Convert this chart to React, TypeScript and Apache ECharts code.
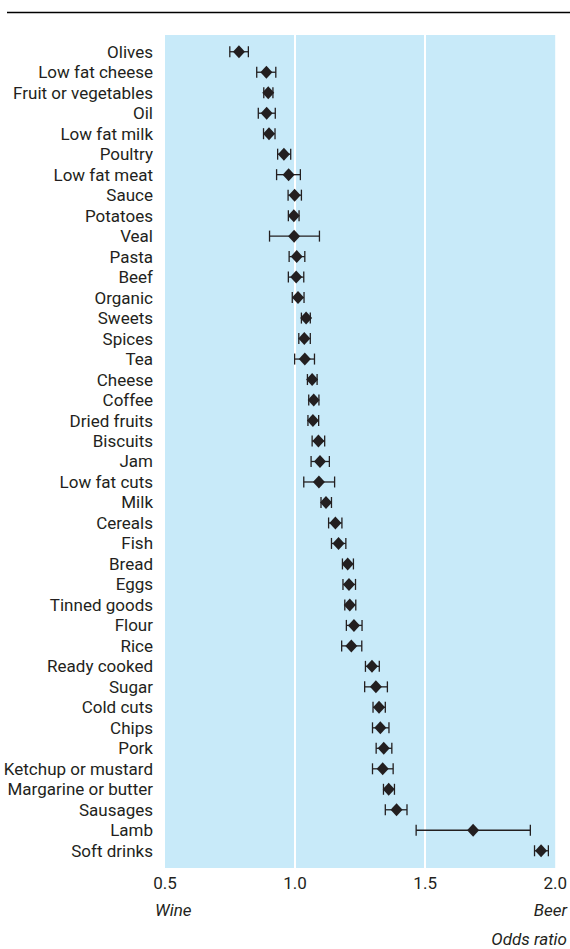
import React, { useEffect, useRef } from "react";
import * as echarts from "echarts";

const categories = [
  "Olives", "Low fat cheese", "Fruit or vegetables", "Oil", "Low fat milk",
  "Poultry", "Low fat meat", "Sauce", "Potatoes", "Veal",
  "Pasta", "Beef", "Organic", "Sweets", "Spices",
  "Tea", "Cheese", "Coffee", "Dried fruits", "Biscuits",
  "Jam", "Low fat cuts", "Milk", "Cereals", "Fish",
  "Bread", "Eggs", "Tinned goods", "Flour", "Rice",
  "Ready cooked", "Sugar", "Cold cuts", "Chips", "Pork",
  "Ketchup or mustard", "Margarine or butter", "Sausages", "Lamb", "Soft drinks",
];

const oddsRatio = [
  0.783, 0.888, 0.895, 0.889, 0.898,
  0.955, 0.973, 0.996, 0.993, 0.994,
  1.004, 1.002, 1.009, 1.040, 1.033,
  1.035, 1.063, 1.069, 1.066, 1.087,
  1.093, 1.089, 1.116, 1.152, 1.164,
  1.199, 1.204, 1.207, 1.223, 1.213,
  1.292, 1.307, 1.319, 1.324, 1.337,
  1.333, 1.356, 1.386, 1.679, 1.939,
];

const ciLow = [
  0.748, 0.851, 0.878, 0.857, 0.877,
  0.931, 0.927, 0.971, 0.972, 0.900,
  0.975, 0.972, 0.987, 1.022, 1.012,
  0.996, 1.045, 1.050, 1.047, 1.063,
  1.059, 1.031, 1.097, 1.126, 1.137,
  1.179, 1.181, 1.188, 1.194, 1.176,
  1.267, 1.264, 1.296, 1.294, 1.308,
  1.294, 1.336, 1.343, 1.461, 1.914,
];

const ciHigh = [
  0.819, 0.924, 0.913, 0.922, 0.921,
  0.981, 1.018, 1.022, 1.013, 1.091,
  1.035, 1.031, 1.032, 1.056, 1.056,
  1.072, 1.082, 1.089, 1.088, 1.111,
  1.129, 1.149, 1.137, 1.177, 1.192,
  1.221, 1.229, 1.230, 1.254, 1.253,
  1.320, 1.351, 1.343, 1.357, 1.368,
  1.373, 1.378, 1.426, 1.898, 1.967,
];

const xMin = 0.5;
const xMax = 2.0;
const xInterval = 0.5;
const leftLabel = "Wine";
const rightLabel = "Beer";
const axisTitle = "Odds ratio";

const FONT = "Roboto, 'Liberation Sans', sans-serif";
const INK = "#231f20";

export default function App() {
  const ref = useRef<HTMLDivElement>(null);

  useEffect(() => {
    document.body.style.margin = "0";
    if (!ref.current) return;
    const chart = echarts.init(ref.current, undefined, { renderer: "svg" });

    const errData = categories.map((_, i) => [i, ciLow[i], ciHigh[i]]);
    const pointData = categories.map((c, i) => [oddsRatio[i], i]);

    chart.setOption({
      animation: false,
      grid: [
        {
          left: 165, right: 13, top: 35, bottom: 81,
          show: true, backgroundColor: "#c8eaf9", borderWidth: 0,
        },
        {
          left: 165, right: 13, top: 41.5, bottom: 88,
          show: false,
        },
      ],
      xAxis: [
        {
          gridIndex: 0, type: "value", min: xMin, max: xMax, interval: xInterval,
          axisLine: { show: false }, axisTick: { show: false },
          splitLine: { show: true, showMinLine: false, showMaxLine: false, lineStyle: { color: "#ffffff", width: 2 } },
          axisLabel: {
            show: true, margin: 6, color: INK, fontFamily: FONT, fontSize: 17,
            formatter: (v: number) => v.toFixed(1),
          },
        },
        {
          gridIndex: 1, type: "value", min: xMin, max: xMax, interval: xInterval,
          show: false, splitLine: { show: false },
        },
      ],
      yAxis: [
        {
          gridIndex: 0, type: "value", min: 0, max: 1, show: false, splitLine: { show: false },
        },
        {
          gridIndex: 1, type: "category", data: categories, inverse: true,
          axisLine: { show: false }, axisTick: { show: false }, splitLine: { show: false },
          axisLabel: { interval: 0, margin: 12, color: INK, fontFamily: FONT, fontSize: 17 },
        },
      ],
      series: [
        {
          type: "custom",
          xAxisIndex: 1, yAxisIndex: 1,
          data: errData,
          encode: { x: [1, 2], y: 0 },
          renderItem: (params: any, api: any) => {
            const idx = api.value(0);
            const lo = api.coord([api.value(1), idx]);
            const hi = api.coord([api.value(2), idx]);
            const h = 5.5;
            const st = { stroke: INK, lineWidth: 1.3 };
            return {
              type: "group",
              children: [
                { type: "line", shape: { x1: lo[0], y1: lo[1], x2: hi[0], y2: hi[1] }, style: st },
                { type: "line", shape: { x1: lo[0], y1: lo[1] - h, x2: lo[0], y2: lo[1] + h }, style: st },
                { type: "line", shape: { x1: hi[0], y1: hi[1] - h, x2: hi[0], y2: hi[1] + h }, style: st },
              ],
            };
          },
          z: 2,
        },
        {
          type: "scatter",
          xAxisIndex: 1, yAxisIndex: 1,
          data: pointData,
          symbol: "diamond",
          symbolSize: [12, 13],
          itemStyle: { color: INK, opacity: 1 },
          z: 3,
        },
      ],
      graphic: [
        {
          type: "line", shape: { x1: 7, y1: 12.5, x2: 570, y2: 12.5 },
          style: { stroke: "#000000", lineWidth: 1.5 },
        },
        {
          type: "text", left: 155, top: 901,
          style: { text: leftLabel, fontFamily: FONT, fontSize: 17, fontStyle: "italic", fill: INK },
        },
        {
          type: "text", right: 3, top: 901,
          style: { text: rightLabel, fontFamily: FONT, fontSize: 17, fontStyle: "italic", fill: INK, align: "right" },
        },
        {
          type: "text", right: 3, top: 930,
          style: { text: axisTitle, fontFamily: FONT, fontSize: 17, fontStyle: "italic", fill: INK, align: "right" },
        },
      ],
    });

    return () => chart.dispose();
  }, []);

  return <div ref={ref} style={{ width: 570, height: 949 }} />;
}
